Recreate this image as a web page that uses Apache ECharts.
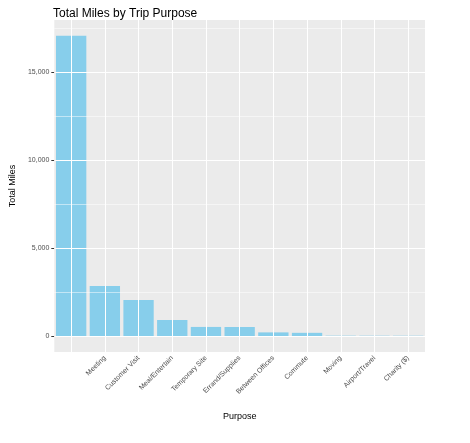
<!DOCTYPE html><html><head><meta charset="utf-8"><script src="https://cdn.jsdelivr.net/npm/echarts@6/dist/echarts.min.js"></script></head><body style="margin:0"><div id="c" style="width:470px;height:443px"></div><script>
const categories=['','Meeting','Customer Visit','Meal/Entertain','Temporary Site','Errand/Supplies','Between Offices','Commute','Moving','Airport/Travel','Charity ($)'];
const miles=[17050,2840,2045,910,515,510,205,180,18,16,15];
const yTicks=[0,5000,10000,15000];
const yMinor=[-2500,2500,7500,12500,17500];
const ch=echarts.init(document.getElementById('c'));
const major=yTicks.map(v=>({yAxis:v,lineStyle:{width:1}})).concat(categories.map((c,i)=>({xAxis:i,lineStyle:{width:1}})));
const minor=yMinor.map(v=>({yAxis:v,lineStyle:{width:0.5}}));
ch.setOption({
animation:false,
title:{text:'Total Miles by Trip Purpose',left:48,top:3,textStyle:{fontSize:12,fontWeight:'normal',color:'#000',fontFamily:'Liberation Sans'}},
grid:{left:52,right:45,top:20,bottom:91,show:true,backgroundColor:'#EBEBEB',borderWidth:0},
xAxis:{type:'category',data:categories,name:'Purpose',nameLocation:'middle',nameGap:60,nameTextStyle:{fontSize:9,color:'#000'},
axisLine:{show:false},axisTick:{alignWithLabel:true,length:3,lineStyle:{color:'#333'}},
axisLabel:{rotate:45,fontSize:7,color:'#4d4d4d',margin:5,interval:0},splitLine:{show:false}},
yAxis:{type:'value',min:-909,max:17950,name:'Total Miles',nameLocation:'middle',nameGap:34,nameTextStyle:{fontSize:9,color:'#000'},
axisLine:{show:false},axisTick:{show:true,length:3,customValues:yTicks,lineStyle:{color:'#333'}},
axisLabel:{customValues:yTicks,fontSize:7,color:'#4d4d4d',margin:5},splitLine:{show:false}},
series:[
{type:'line',data:[],z:1,markLine:{silent:true,symbol:'none',label:{show:false},lineStyle:{color:'#fff',type:'solid'},data:major.concat(minor)}},
{type:'bar',data:miles,z:3,barCategoryGap:'10%',itemStyle:{color:'#87CEEB'}}
]});
</script></body></html>
